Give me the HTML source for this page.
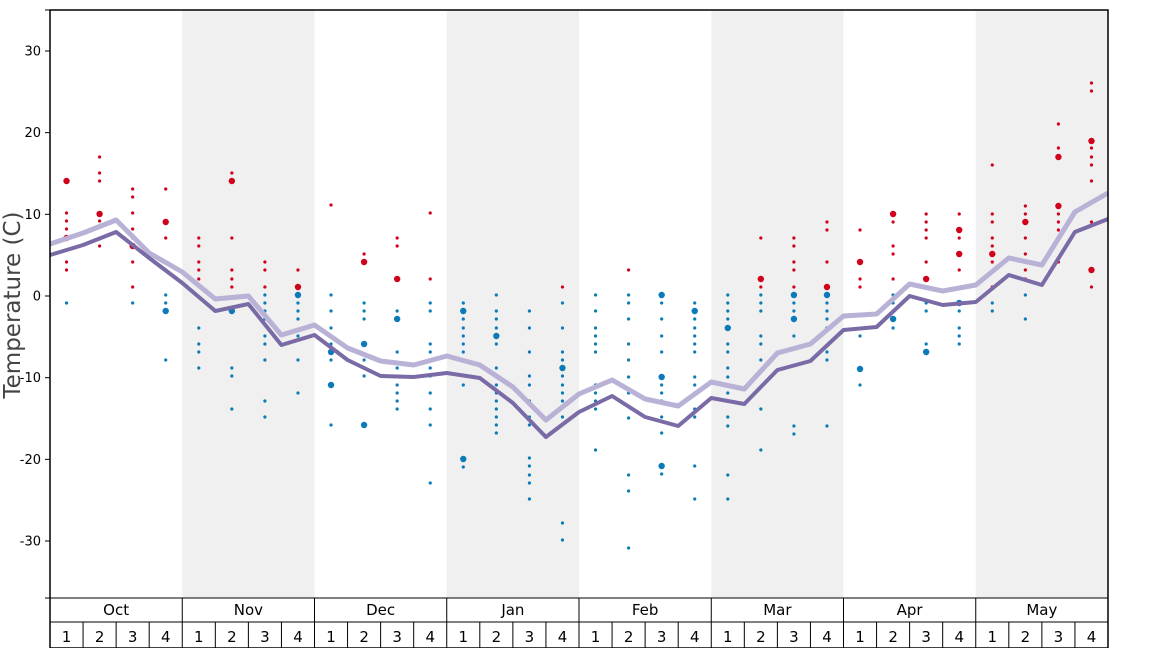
<!DOCTYPE html>
<html><head><meta charset="utf-8"><style>
html,body{margin:0;padding:0;background:#fff;}
svg{display:block;font-family:"DejaVu Sans","Liberation Sans",sans-serif;}
</style></head><body>
<svg id="s" width="1168" height="648" viewBox="0 0 1168 648" xmlns="http://www.w3.org/2000/svg">
<rect width="1168" height="648" fill="#fff"/>
<g id="shade" fill="#f0f0f0"></g>
<g id="dots"></g>
<polyline id="light" fill="none" stroke="#b9b2d6" stroke-width="5" stroke-linejoin="round"/>
<polyline id="dark" fill="none" stroke="#7a6aa6" stroke-width="4" stroke-linejoin="round"/>
<g id="axes" font-size="13" fill="#000"></g>
<text transform="translate(20,305) rotate(-90)" text-anchor="middle" font-size="23" fill="#444">Temperature (C)</text>
</svg>
<script>
var NS="http://www.w3.org/2000/svg";
function el(p,t,a,txt){var e=document.createElementNS(NS,t);for(var k in a)e.setAttribute(k,a[k]);if(txt!==undefined)e.textContent=txt;document.getElementById(p).appendChild(e);return e;}
var L=50,R=1108,W=(R-L)/8,w=W/4;
for(var m=1;m<8;m+=2)el("shade","rect",{x:L+m*W,y:10,width:W,height:588});
var d=[255,245,232,258,283,311,304,345,335,360,376,377,373,378,403,437,412,396,417,426,398,404,370,361,330,327,296,305,302,275,285,232,219];
var l=[244,233,220,253,272,299,296,335,325,348,361,365,356,365,387,420,394,380,399,406,382,389,353,344,316,314,284,291,285,258,265,212,193];
function pts(a){return a.map(function(y,i){return (L+i*w).toFixed(1)+","+y}).join(" ");}
document.getElementById("dark").setAttribute("points",pts(d));
document.getElementById("light").setAttribute("points",pts(l));
// dots: [red list],[blue list]; negative = big
var D=[
[[-181,213,221,229,-238,262,270],[303]],
[[157,173,181,-214,221,246],[]],
[[189,197,213,229,238,-246,262,287],[303]],
[[189,-222,238,262,270],[295,303,-311,360]],
[[238,246,262,270,279],[328,344,352,368]],
[[173,-181,238,270,279,287],[-311,368,376,409]],
[[262,270,287],[295,303,311,319,336,344,360,401,417]],
[[270,-287],[-295,303,311,319,336,360,393]],
[[205],[295,311,328,344,-352,360,-385,425]],
[[254,-262],[303,311,319,-344,360,376,-425]],
[[238,246,-279],[311,-319,352,368,385,393,401,409]],
[[213,279],[303,311,344,352,368,376,393,409,425,483]],
[[],[303,-311,319,328,336,344,352,385,-459,467]],
[[],[295,311,319,328,-336,344,368,385,393,401,409,417,425,433]],
[[],[311,328,352,376,385,401,417,425,458,466,475,483,499]],
[[287],[303,328,352,360,-368,376,385,393,401,417,523,540]],
[[],[295,311,328,336,344,352,385,393,401,409,450]],
[[270],[295,303,319,344,360,377,393,418,475,491,548]],
[[],[-295,303,319,336,352,-377,385,393,401,417,433,-466,474]],
[[],[303,-311,319,328,336,344,352,377,385,393,409,417,466,499]],
[[],[295,303,311,319,-328,344,352,368,377,385,393,417,426,475,499]],
[[238,-279,287],[295,303,311,336,344,360,409,450]],
[[238,246,262,270,287],[-295,303,311,-319,336,426,434]],
[[222,230,262,-287],[-295,303,311,319,328,352,360,426]],
[[230,-262,279,287],[336,-369,385]],
[[-214,222,246,254,279],[295,303,311,-319,328]],
[[214,222,230,238,262,-279,287],[303,311,344,-352]],
[[214,-230,238,-254,270],[-303,311,328,336,344]],
[[165,214,222,238,246,-254,262,287],[303,311]],
[[206,214,-222,238,254,262,270,279],[295,319]],
[[124,148,-157,-206,214,222,230,238,262],[]],
[[83,91,-141,148,157,165,181,222,-270,287],[]]];
D.forEach(function(c,i){var x=L+(i+0.5)*w;
 c[0].forEach(function(y){el("dots","circle",{cx:x,cy:Math.abs(y),r:y<0?3.2:1.6,fill:"#d0021b"});});
 c[1].forEach(function(y){el("dots","circle",{cx:x,cy:Math.abs(y),r:y<0?3.2:1.6,fill:"#0a7ab8"});});
});
// axes
el("axes","rect",{x:L,y:10,width:R-L,height:638,fill:"none",stroke:"#000","stroke-width":1.5});
el("axes","line",{x1:L,y1:598,x2:R,y2:598,stroke:"#000"});
el("axes","line",{x1:L,y1:622,x2:R,y2:622,stroke:"#000"});
[10,598].forEach(function(y){el("axes","line",{x1:45,y1:y,x2:L,y2:y,stroke:"#000"});});
[30,20,10,0,-10,-20,-30].forEach(function(t){var y=296-8.167*t;
 el("axes","line",{x1:45,y1:y,x2:L,y2:y,stroke:"#000"});
 el("axes","text",{x:41,y:y+4.5,"text-anchor":"end"},String(t));});
var M=["Oct","Nov","Dec","Jan","Feb","Mar","Apr","May"];
for(var m=0;m<8;m++){var x0=L+m*W;
 el("axes","line",{x1:x0,y1:598,x2:x0,y2:648,stroke:"#000"});
 el("axes","text",{x:x0+W/2,y:615,"text-anchor":"middle","font-size":"15"},M[m]);
 for(var k=0;k<4;k++){var xx=x0+k*w;
  if(k>0)el("axes","line",{x1:xx,y1:622,x2:xx,y2:648,stroke:"#000"});
  el("axes","text",{x:xx+w/2,y:642,"text-anchor":"middle","font-size":"15"},String(k+1));}}
</script>
</body></html>
